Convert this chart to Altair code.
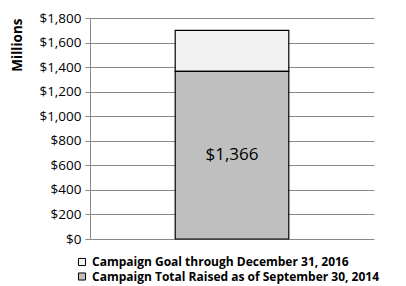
import altair as alt
import pandas as pd

categories = ["Campaign Goal through December 31, 2016",
              "Campaign Total Raised as of September 30, 2014"]
goal = 1700
raised = 1366
colors = ["#f2f2f2", "#bfbfbf"]

df = pd.DataFrame({
    "x": ["A", "A"],
    "series": categories,
    "y0": [raised, 0],
    "y1": [goal, raised],
})
lab = pd.DataFrame({"x": ["A"], "mid": [raised / 2], "text": [f"${raised:,}"]})

FONT = "Open Sans"

y_scale = alt.Scale(domain=[0, 1800], nice=False)
x_scale = alt.Scale(paddingInner=0, paddingOuter=0.75)
y_axis = alt.Axis(
    values=list(range(0, 1801, 200)), format="$,d", title="Millions",
    titleFont=FONT, titleFontSize=13.5, titleFontWeight="bold", titleColor="black",
    titleAnchor="end",
    labelFont=FONT, labelFontSize=13.5, labelColor="black", labelOverlap=False,
    labelFlush=False, grid=True,
    tickSize=5, tickColor="#888888", domainColor="#888888",
    gridColor="#888888", gridWidth=1, labelPadding=4, titlePadding=14)

bars = alt.Chart(df).mark_bar(stroke="black", strokeWidth=1.2).encode(
    x=alt.X("x:N", scale=x_scale, axis=None),
    y=alt.Y("y0:Q", scale=y_scale, axis=y_axis),
    y2="y1:Q",
    color=alt.Color("series:N", scale=alt.Scale(domain=categories, range=colors),
                    legend=alt.Legend(orient="none", legendX=-14, legendY=238,
                                      title=None, symbolType="square", symbolSize=50,
                                      symbolStrokeColor="black", symbolStrokeWidth=1,
                                      labelFont=FONT, labelFontSize=12,
                                      labelFontWeight="bold", labelColor="black",
                                      rowPadding=2.5, labelOffset=4, labelLimit=400)),
)

text = alt.Chart(lab).mark_text(font=FONT, fontSize=17, color="black").encode(
    x=alt.X("x:N", scale=x_scale, axis=None),
    y=alt.Y("mid:Q", scale=y_scale, axis=y_axis),
    text="text:N",
)

chart = alt.layer(bars, text).properties(
    width=284, height=221,
    autosize=alt.AutoSizeParams(type="none"),
    padding={"left": 82, "top": 10, "right": 24, "bottom": 46},
).configure_view(stroke=None)

chart.save("out.html", embed_options={"renderer": "svg", "actions": False})
